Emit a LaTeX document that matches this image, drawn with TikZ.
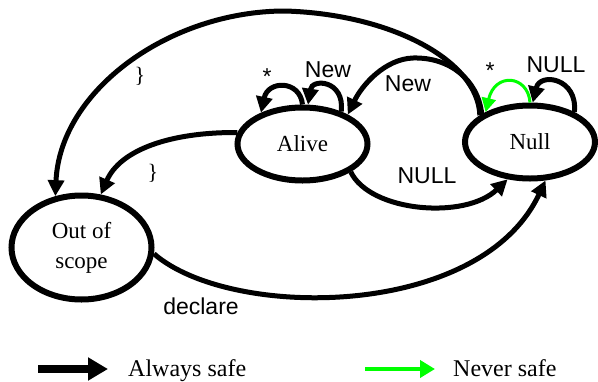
\documentclass[tikz,border=0pt]{standalone}
\usepackage{fontspec}
\setmainfont{Liberation Serif}
\newfontfamily\arialfont{Liberation Sans}
\usetikzlibrary{arrows.meta,shapes.geometric}
\definecolor{safegreen}{RGB}{0,255,0}
\begin{document}
\begin{tikzpicture}[x=1pt,y=-1pt,
  state/.style={ellipse,draw,line width=6pt,inner sep=0pt,minimum width=130pt,minimum height=73pt,
    font=\fontsize{23}{30}\selectfont,align=center},
  trans/.style={line width=5pt,-{Triangle[length=16pt,width=16pt]}},
  bad/.style={safegreen,line width=3pt,-{Triangle[length=14pt,width=14pt]}},
  lab/.style={inner sep=0pt,font=\arialfont\fontsize{23}{27}\selectfont},
  brace/.style={inner sep=0pt,font=\fontsize{22}{26}\selectfont},
  legtext/.style={inner sep=0pt,anchor=base west,font=\fontsize{24}{28}\selectfont}]
\useasboundingbox (0,0) rectangle (598,381);

% states
\node[state] (alive) at (302.5,144) {Alive};
\node[state] (null) at (530,142) {Null};
\node[state,minimum width=140pt,minimum height=104pt] (out) at (81.5,247.5) {Out of\\scope};

% big arc Null -> Out of scope
\draw[trans] (null.152) .. controls (478,60) and (390,14) .. (285,11)
  .. controls (170,11) and (60,90) .. (out.117);
\node[brace] (b1) at (140,76) {\}};

% New: Null -> Alive
\draw[trans] (null.150) .. controls (478,80) and (450,57) .. (413,58)
  .. controls (385,59) and (362,85) .. (alive.33);
\node[lab] (lnew2) at (408,84) {New};

% Alive self loops
\draw[trans] (alive.90) .. controls (300,80) and (268,80) .. (alive.143);
\node[lab] (lstar1) at (267,77) {*};
\draw[trans] (alive.40) .. controls (345,80) and (312,78) .. (alive.82);
\node[lab] (lnew1) at (328,70) {New};

% Alive -> Out of scope
\draw[trans] (alive.170) .. controls (170,132) and (120,150) .. (out.70);
\node[brace] (b2) at (153,173) {\}};

% Alive -> Null
\draw[trans] (alive.-30) .. controls (370,212) and (465,220) .. (null.239);
\node[lab] (lnull1) at (427,176) {NULL};

% Out of scope -> Null
\draw[trans] (out.-5) .. controls (230,320) and (480,320) .. (null.-68);
\node[lab] (ldecl) at (201,306) {declare};

% Null self loops
\draw[bad] (null.90) .. controls (528,75) and (495,72) .. (null.146);
\node[lab] (lstar2) at (490,71) {*};
\draw[trans] (null.34) .. controls (578,78) and (540,72) .. (null.86);
\node[lab] (lnull2) at (556,65) {NULL};

% legend
\coordinate (ka) at (38,369);
\coordinate (kb) at (108,369);
\draw[line width=8pt,-{Triangle[length=20pt,width=22pt]}] (ka) -- (kb);
\node[legtext] (ltA) at (128,376.5) {Always safe};
\coordinate (kc) at (365,369);
\coordinate (kd) at (435,369);
\draw[safegreen,line width=4pt,-{Triangle[length=15pt,width=17pt]}] (kc) -- (kd);
\node[legtext] (ltN) at (453,376.5) {Never safe};
\end{tikzpicture}
\end{document}
